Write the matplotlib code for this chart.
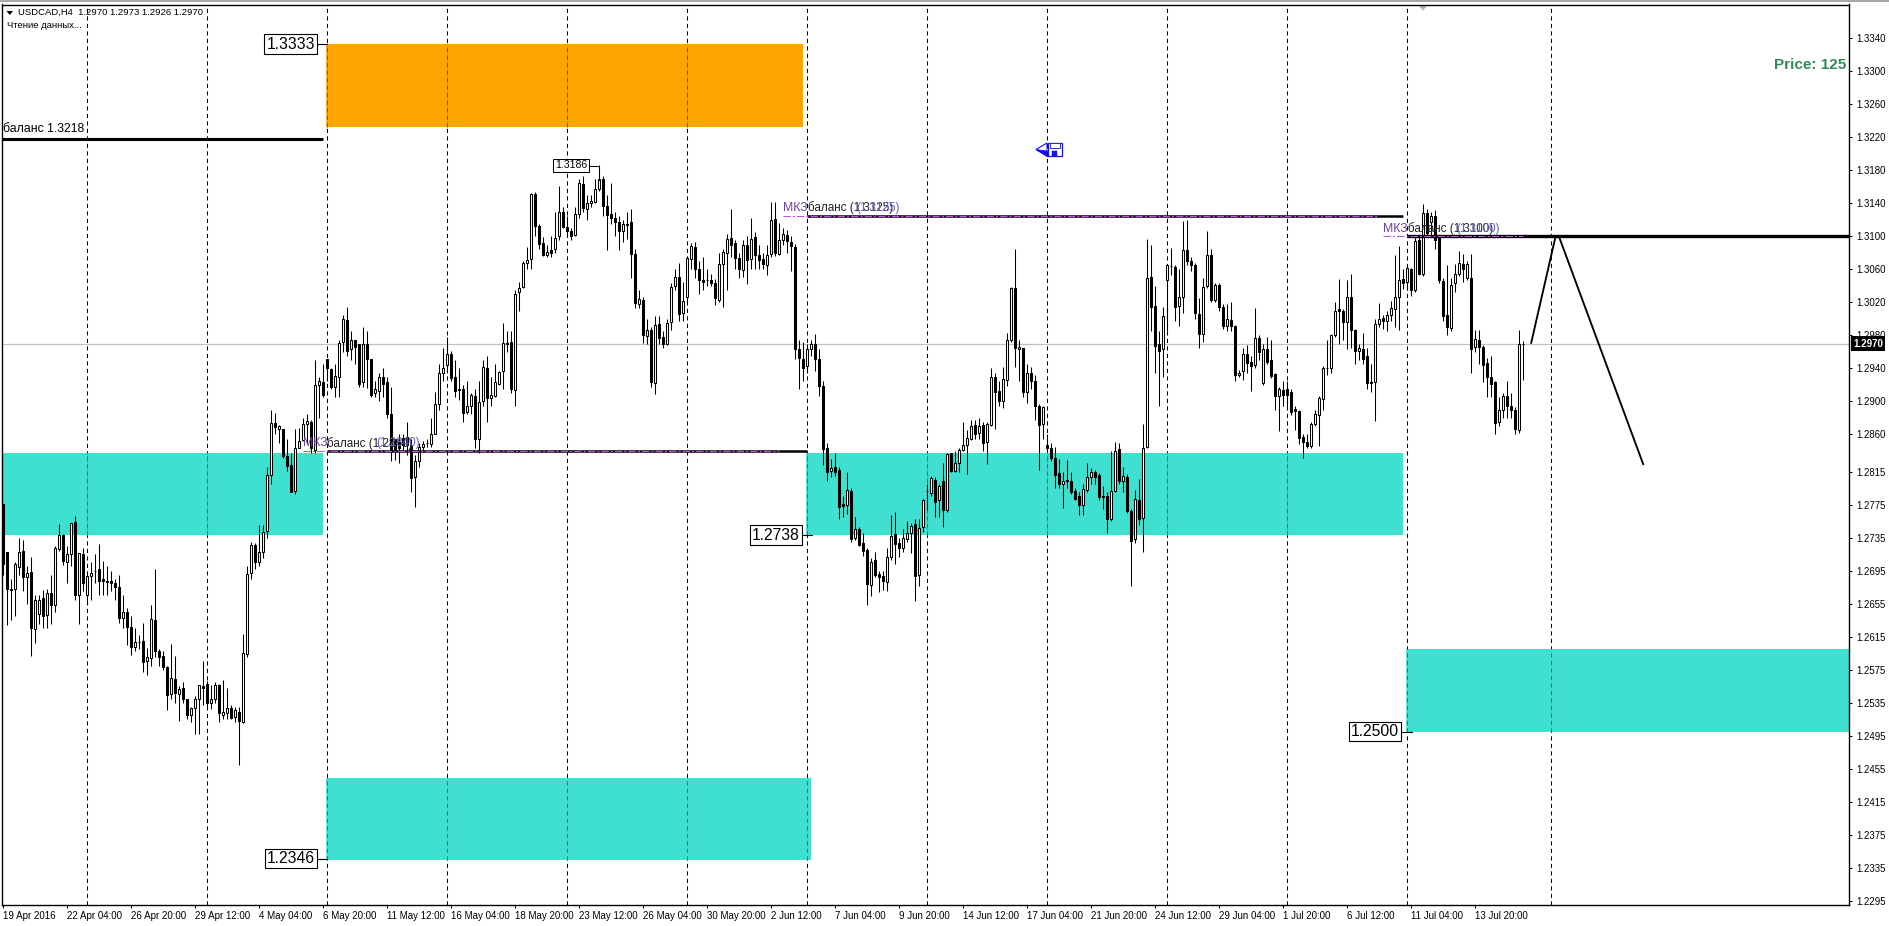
import matplotlib
matplotlib.use("Agg")
import matplotlib.pyplot as plt
import numpy as np
from matplotlib.patches import Polygon, Rectangle

plt.rcParams['font.family'] = ['Liberation Sans', 'DejaVu Sans']

# prices x 10000, one candle every 4 hours
opens = [
    12776,12717,12673,12673,12699,12719,12687,12693,12624,12642,12662,12641,12668,12653,12721,12738,
    12705,12715,12754,12666,12715,12665,12689,12695,12697,12685,12683,12682,12680,12675,12638,12645,
    12627,12603,12609,12610,12585,12589,12635,12598,12592,12578,12546,12564,12546,12553,12539,12520,
    12528,12539,12555,12558,12534,12539,12556,12520,12522,12528,12518,12524,12512,12594,12692,12726,
    12706,12718,12743,12811,12874,12866,12867,12834,12823,12792,12843,12853,12873,12875,12841,12920,
    12924,12952,12939,12918,12930,12972,12999,12963,12975,12969,12923,12970,12952,12910,12913,12930,
    12923,12885,12855,12851,12856,12857,12847,12808,12828,12845,12850,12848,12861,12897,12934,12944,
    12958,12930,12915,12915,12887,12895,12907,12855,12900,12941,12904,12907,12921,12937,12971,12972,
    12914,13032,13039,13068,13073,13151,13112,13092,13078,13084,13085,13100,13130,13111,13106,13102,
    13127,13164,13133,13141,13142,13158,13169,13137,13127,13122,13117,13107,13115,13118,13079,13018,
    13023,12979,12987,12922,12994,12978,12969,12996,13040,13051,13007,13026,13073,13087,13061,13047,
    13047,13047,13043,13023,13066,13080,13098,13092,13074,13059,13089,13072,13099,13078,13072,13065,
    13079,13121,13079,13095,13102,13093,13087,12963,12952,12943,12963,12969,12951,12919,12843,12816,
    12820,12817,12776,12774,12792,12735,12745,12728,12720,12678,12708,12691,12689,12681,12711,12739,
    12728,12723,12733,12740,12751,12690,12748,12792,12789,12805,12780,12804,12769,12837,12816,12825,
    12841,12847,12855,12872,12862,12872,12851,12872,12929,12913,12900,12926,12974,13038,12964,12965,
    12911,12935,12925,12894,12873,12847,12843,12832,12813,12800,12805,12803,12792,12785,12775,12793,
    12809,12815,12811,12786,12786,12757,12792,12842,12804,12809,12767,12733,12781,12759,12845,13051,
    13016,12970,12963,13047,13064,13063,13016,13027,13084,13070,13065,13006,12982,13040,13077,13023,
    13041,13014,12991,12999,12991,12932,12937,12958,12948,12944,12977,12922,12963,12950,12933,12907,
    12914,12915,12912,12891,12888,12857,12851,12846,12873,12884,12903,12940,12940,12981,13012,13010,
    12996,13027,12986,12961,12964,12955,12924,12923,12994,13001,12997,13005,13012,13027,13048,13045,
    13060,13035,13095,13055,13128,13117,13125,13100,13046,13005,12989,13043,13055,13066,13049,13049,
    12966,12975,12966,12946,12930,12923,12875,12890,12907,12895,12890,12865,12969,
]
highs = [
    12776,12717,12685,12705,12735,12732,12700,12711,12665,12665,12672,12673,12690,12725,12752,12739,
    12725,12753,12761,12716,12722,12693,12705,12715,12727,12707,12700,12695,12685,12690,12665,12650,
    12640,12625,12617,12632,12601,12653,12697,12600,12597,12580,12606,12592,12555,12560,12540,12530,
    12543,12557,12586,12561,12557,12560,12558,12562,12553,12532,12530,12530,12618,12700,12730,12728,
    12750,12750,12820,12890,12886,12872,12867,12855,12838,12867,12868,12880,12885,12878,12950,12930,
    12945,12952,12940,12945,12975,13005,13015,12985,12975,12970,12990,12985,12952,12925,12935,12941,
    12930,12918,12850,12860,12860,12875,12855,12835,12850,12852,12855,12880,12912,12945,12965,12978,
    12961,12950,12940,12920,12925,12910,12915,12925,12950,12955,12930,12945,12937,12995,12985,12985,
    13035,13045,13070,13087,13153,13154,13115,13099,13090,13100,13130,13161,13135,13125,13110,13135,
    13170,13173,13150,13150,13170,13186,13173,13150,13165,13130,13125,13120,13130,13133,13085,13035,
    13027,13000,12990,13003,13003,12985,13000,13043,13060,13068,13045,13075,13092,13093,13070,13075,
    13060,13055,13048,13080,13085,13103,13133,13095,13080,13095,13100,13122,13105,13090,13080,13090,
    13142,13142,13116,13110,13108,13100,13091,12975,12972,12970,12975,12982,12964,12925,12850,12830,
    12837,12820,12785,12815,12795,12760,12748,12740,12722,12710,12718,12695,12695,12722,12762,12766,
    12735,12745,12755,12753,12757,12757,12782,12800,12810,12808,12800,12826,12838,12838,12840,12843,
    12875,12865,12877,12877,12880,12875,12875,12941,12935,12925,12942,12983,13039,13085,12975,12965,
    12945,12942,12932,12897,12895,12860,12850,12845,12830,12815,12829,12815,12795,12790,12800,12825,
    12819,12817,12813,12797,12790,12840,12851,12850,12820,12812,12770,12793,12806,12873,13097,13090,
    13040,12985,13015,13067,13086,13065,13060,13119,13120,13075,13068,13025,13050,13107,13085,13043,
    13043,13018,13018,13020,12993,12938,12965,12968,12955,13013,12980,12970,12978,12975,12935,12918,
    12925,12925,12915,12895,12890,12860,12860,12875,12890,12906,12943,12975,12982,13020,13048,13012,
    13047,13055,12988,12970,12983,12965,12945,13000,13019,13005,13010,13022,13078,13088,13060,13065,
    13062,13100,13100,13139,13133,13130,13132,13102,13050,13065,13050,13067,13082,13079,13070,13079,
    12986,12986,12968,12953,12955,12925,12905,12910,12925,12910,12893,12987,12973,
]
lows = [
    12690,12629,12635,12640,12690,12670,12655,12592,12607,12630,12625,12625,12630,12645,12719,12702,
    12680,12700,12660,12630,12670,12655,12660,12680,12665,12665,12665,12670,12660,12632,12625,12605,
    12593,12598,12600,12572,12569,12580,12590,12580,12574,12526,12540,12535,12513,12535,12515,12512,
    12497,12497,12532,12527,12527,12535,12512,12515,12515,12515,12512,12459,12510,12590,12685,12697,
    12700,12710,12735,12800,12860,12850,12832,12816,12790,12788,12843,12852,12850,12838,12837,12880,
    12905,12925,12915,12905,12905,12960,12955,12950,12945,12918,12917,12916,12905,12905,12900,12905,
    12880,12828,12829,12825,12840,12835,12790,12772,12820,12840,12845,12845,12860,12890,12925,12935,
    12925,12905,12902,12875,12885,12885,12843,12838,12895,12875,12895,12905,12920,12915,12960,12910,
    12894,13009,13038,13060,13060,13100,13085,13076,13075,13075,13080,13096,13110,13100,13095,13101,
    13122,13130,13120,13135,13140,13155,13125,13083,13115,13100,13083,13093,13097,13050,13013,13013,
    12971,12970,12917,12909,12970,12965,12968,12986,13035,12997,12997,13020,13060,13050,13030,13035,
    13040,13040,13017,13020,13015,13035,13075,13060,13050,13051,13042,13060,13060,13060,13060,13053,
    13075,13076,13077,13090,13080,13058,12952,12915,12925,12935,12955,12937,12906,12823,12803,12808,
    12810,12757,12760,12763,12730,12732,12725,12713,12653,12664,12687,12669,12672,12670,12708,12703,
    12712,12718,12730,12716,12658,12676,12742,12768,12785,12760,12760,12748,12766,12815,12815,12815,
    12840,12812,12853,12855,12855,12840,12824,12870,12866,12895,12892,12919,12972,12942,12925,12905,
    12898,12915,12878,12817,12855,12840,12828,12795,12795,12771,12795,12788,12780,12762,12762,12790,
    12800,12800,12780,12770,12740,12755,12790,12800,12790,12765,12676,12729,12750,12718,12843,12985,
    12935,12894,12930,12985,13053,12997,12992,13007,13065,13058,13000,12965,12972,13038,13020,13020,
    13010,12988,12985,12985,12925,12929,12926,12935,12913,12940,12950,12920,12945,12928,12890,12864,
    12895,12895,12884,12865,12848,12831,12843,12843,12870,12846,12890,12932,12935,12978,12970,12975,
    12963,12965,12945,12950,12945,12915,12911,12876,12990,12988,12985,12998,12990,12986,13036,13035,
    13028,13033,13053,13052,13100,13100,13085,13043,12998,12980,12985,13033,13052,13045,13047,12934,
    12960,12945,12924,12905,12905,12860,12870,12880,12880,12880,12860,12862,12926,
]
closes = [
    12703,12673,12671,12703,12718,12687,12692,12625,12660,12660,12640,12668,12653,12723,12738,12707,
    12715,12753,12665,12716,12680,12689,12692,12694,12683,12682,12681,12680,12675,12638,12645,12627,
    12603,12609,12608,12584,12590,12636,12597,12590,12578,12544,12565,12547,12552,12539,12520,12528,
    12540,12556,12553,12535,12540,12557,12522,12524,12529,12517,12526,12513,12595,12691,12726,12705,
    12718,12742,12811,12874,12869,12870,12834,12822,12790,12844,12852,12873,12876,12843,12920,12925,
    12908,12940,12918,12931,12971,13000,12961,12975,12966,12921,12970,12951,12908,12915,12930,12921,
    12885,12841,12841,12844,12847,12847,12807,12828,12845,12849,12850,12861,12897,12934,12940,12958,
    12928,12913,12914,12886,12895,12908,12855,12899,12942,12904,12908,12923,12936,12971,12970,12915,
    13030,13038,13068,13071,13151,13112,13091,13078,13081,13080,13098,13129,13111,13106,13101,13127,
    13165,13134,13141,13143,13157,13170,13137,13126,13122,13117,13106,13115,13114,13079,13019,13024,
    12980,12987,12923,12993,12977,12969,12995,13039,13051,13006,13022,13074,13088,13060,13047,13045,
    13047,13044,13025,13066,13081,13097,13090,13074,13060,13089,13071,13097,13077,13071,13066,13078,
    13120,13080,13096,13103,13094,13088,12963,12953,12940,12963,12969,12951,12919,12842,12815,12819,
    12815,12772,12773,12793,12733,12745,12726,12719,12679,12706,12690,12687,12682,12712,12737,12727,
    12722,12735,12741,12749,12689,12747,12780,12791,12807,12778,12798,12768,12836,12816,12826,12841,
    12847,12856,12870,12861,12870,12850,12873,12929,12911,12900,12927,12975,13037,12965,12966,12911,
    12935,12925,12894,12872,12893,12843,12832,12811,12800,12804,12803,12790,12782,12774,12794,12808,
    12815,12809,12784,12784,12757,12792,12840,12803,12810,12767,12731,12782,12758,12843,13049,13014,
    12967,12961,13003,13065,13064,13015,13027,13084,13070,13065,13007,12982,13039,13077,13023,13041,
    13014,12991,13000,12991,12932,12935,12958,12946,12943,12977,12960,12963,12948,12931,12907,12915,
    12908,12908,12887,12888,12856,12851,12846,12873,12885,12904,12941,12940,12980,13010,13009,12996,
    13027,12986,12961,12965,12951,12922,12922,12994,13000,12997,13005,13013,13026,13047,13043,13062,
    13035,13094,13055,13128,13104,13125,13095,13047,13003,12990,13041,13055,13068,13060,13066,12964,
    12976,12966,12944,12929,12921,12874,12890,12906,12895,12890,12866,12970,12970,
]

date_labels = [
    '19 Apr 2016','22 Apr 04:00','26 Apr 20:00','29 Apr 12:00','4 May 04:00','6 May 20:00',
    '11 May 12:00','16 May 04:00','18 May 20:00','23 May 12:00','26 May 04:00','30 May 20:00',
    '2 Jun 12:00','7 Jun 04:00','9 Jun 20:00','14 Jun 12:00','17 Jun 04:00','21 Jun 20:00',
    '24 Jun 12:00','29 Jun 04:00','1 Jul 20:00','6 Jul 12:00','11 Jul 04:00','13 Jul 20:00',
]
price_ticks = [
    1.3340,1.3300,1.3260,1.3220,1.3180,1.3140,1.3100,1.3060,1.3020,1.2980,1.2940,1.2900,1.2860,1.2815,
    1.2775,1.2735,1.2695,1.2655,1.2615,1.2575,1.2535,1.2495,1.2455,1.2415,1.2375,1.2335,1.2295,
]
separators = [21, 51, 81, 111, 141, 171, 201, 231, 261, 291, 321, 351, 387]

# (first bar, last bar, low, high, colour)
orange_zone = (81, 200, 1.3233, 1.3333, '#FFA500')
aqua_zones = [
    (-1, 80, 1.2738, 1.2838, '#40E0D0'),
    (81, 202, 1.2344, 1.2444, '#40E0D0'),
    (201, 350, 1.2738, 1.2838, '#40E0D0'),
    (351, 462, 1.2500, 1.2600, '#40E0D0'),
]
# (price, black from, black to, purple from, purple to)
levels = [
    (1.2840, 81, 201, 75, 194),
    (1.3125, 201, 350, 195, 344),
    (1.3100, 351, 462, 345, 380),
]
forecast_x = [382, 388, 389, 410]
forecast_y = [1.2971, 1.3098, 1.3099, 1.2824]

W, H = 1890, 926
AX_L, AX_R, AX_T, AX_B = 2.4, 1848.6, 4.5, 905


def px_x(px):
    return (px - 3.2) / 4.0


def px_y(py):
    return 1.3340 - (py - 38.3) / 8253.0


fig = plt.figure(figsize=(W / 100, H / 100), dpi=100, facecolor='white')
ax = fig.add_axes([AX_L / W, (H - AX_B) / H, (AX_R - AX_L) / W, (AX_B - AX_T) / H])
ax.set_xlim(px_x(AX_L), px_x(AX_R))
ax.set_ylim(px_y(AX_B), px_y(AX_T))

fig.add_artist(Rectangle((0, 1 - 2.0 / H), 1, 2.0 / H, transform=fig.transFigure, color='#A8A8A8', lw=0))

# zones go under everything
for x0, x1, lo, hi, col in [orange_zone] + aqua_zones:
    ax.add_patch(Rectangle((x0, lo), x1 - x0, hi - lo, fc=col, ec='none', zorder=1))

# separators: MT4 xors them with the background so they change colour over a zone
dash = (0, (4, 3.2))
for s in separators:
    ax.axvline(s, color='black', lw=0.75, ls=dash, zorder=2)
    for x0, x1, lo, hi, col in [orange_zone] + aqua_zones:
        if x0 <= s <= x1:
            over = '#2A5FD8' if col == '#FFA500' else '#D8303A'
            ax.plot([s, s], [lo, hi], color=col, lw=1.2, zorder=2.1, solid_capstyle='butt')
            ax.plot([s, s], [lo, hi], color=over, lw=0.75, ls=dash, zorder=2.2)

ax.axhline(1.2970, color='#C0C0C0', lw=0.9, zorder=2.5)

# candles
x = np.arange(len(closes))
o = np.array(opens) / 1e4
h = np.array(highs) / 1e4
l = np.array(lows) / 1e4
c = np.array(closes) / 1e4
up = c >= o
ax.vlines(x, l, h, color='black', lw=0.75, zorder=3)
ax.bar(x[up], (c - o)[up], bottom=o[up], width=0.62, color='white', edgecolor='black', lw=0.75, zorder=4)
ax.bar(x[~up], (o - c)[~up], bottom=c[~up], width=0.62, color='black', edgecolor='black', lw=0.75, zorder=4)

# level lines
ax.plot([px_x(AX_L), 80], [1.3218, 1.3218], color='black', lw=2.2, zorder=5, solid_capstyle='butt')
for price, b0, b1, p0, p1 in levels:
    lw = 2.4 if price == 1.3100 else 1.8
    ax.plot([b0, b1], [price, price], color='black', lw=lw, zorder=5, solid_capstyle='butt')
    ax.plot([p0, p1], [price, price], color='#C050E0', lw=0.75, ls=(0, (7, 2, 2, 2)), zorder=5.5)

ax.plot(forecast_x[:2], forecast_y[:2], color='black', lw=1.35, zorder=5)
ax.plot(forecast_x[2:], forecast_y[2:], color='black', lw=1.35, zorder=5)

# overlapping level captions
ax.text(px_x(3), px_y(129), 'баланс 1.3218', fontsize=8.8, color='black', va='center', zorder=7)
for x_mk, x_bal, price, label in [(303.3, 327.4, 1.2840, '1.2840'),
                                   (783.5, 807.6, 1.3125, '1.3125'),
                                   (1383, 1407.5, 1.3100, '1.3100')]:
    y_txt = price + 0.00095
    ax.text(px_x(x_mk), y_txt, 'МКЗ', fontsize=8.8, color='#6A3FA0', va='center', zorder=7)
    ax.text(px_x(x_bal), y_txt, 'баланс (' + label + ')', fontsize=8.4, color='#202020', va='center', zorder=7)
    ax.text(px_x(x_bal + 92.5), y_txt, '(' + label + ')', fontsize=8.4, color='#6060C0', va='center', ha='right', zorder=7)

# boxed round numbers
for price, box_right, conn_end, txt in [(1.3333, 317, 327.4, '1.3333'), (1.2346, 317, 327.4, '1.2346'),
                                        (1.2738, 801.6, 811.6, '1.2738'), (1.2500, 1401, 1412, '1.2500')]:
    ax.plot([px_x(box_right), px_x(conn_end)], [price, price], color='black', lw=0.8, zorder=6)
    ax.text(px_x(box_right - 2), price, txt, fontsize=11.3, ha='right', va='center', color='black', zorder=7,
            bbox=dict(boxstyle='square,pad=0.14', fc='white', ec='black', lw=0.8))

# high marker
ax.plot([px_x(589), px_x(599.4), px_x(599.4)], [px_y(166), px_y(166), px_y(180)], color='black', lw=0.75, zorder=6)
ax.text(px_x(587), px_y(165.5), '1.3186', fontsize=7.6, ha='right', va='center', zorder=7,
        bbox=dict(boxstyle='square,pad=0.18', fc='white', ec='black', lw=0.75))

# arrow icon
blue = '#1010F0'
ax.add_patch(Polygon([(px_x(1036), px_y(149.5)), (px_x(1047), px_y(143)), (px_x(1047), px_y(156))],
                     closed=True, fc='white', ec=blue, lw=0.8, zorder=6))
ax.add_patch(Polygon([(px_x(1036), px_y(149.5)), (px_x(1047), px_y(151)), (px_x(1048), px_y(157))],
                     closed=True, fc=blue, ec=blue, lw=0.5, zorder=6))
ax.add_patch(Rectangle((px_x(1047.5), px_y(156.5)), 14 / 4.0, 13.5 / 8253.0, fc='white', ec=blue, lw=0.9, zorder=6))
ax.add_patch(Rectangle((px_x(1052), px_y(156.5)), 5 / 4.0, 5 / 8253.0, fc=blue, ec=blue, lw=0.3, zorder=6.1))
ax.add_patch(Rectangle((px_x(1049.5), px_y(148)), 10 / 4.0, 5 / 8253.0, fc='white', ec=blue, lw=0.6, zorder=6.1))

# grey scroll marker
ax.add_patch(Polygon([(px_x(1418), px_y(AX_T)), (px_x(1428), px_y(AX_T)), (px_x(1423), px_y(10.5))],
                     closed=True, fc='#B0B0B0', ec='none', zorder=6))

# header
ax.add_patch(Polygon([(px_x(6.5), px_y(11)), (px_x(13), px_y(11)), (px_x(9.8), px_y(15))],
                     closed=True, fc='black', ec='none', zorder=7))
ax.text(px_x(18), px_y(12.8), 'USDCAD,H4  1.2970 1.2973 1.2926 1.2970', fontsize=6.8, va='center', zorder=7)
ax.text(px_x(7), px_y(26), 'Чтение данных...', fontsize=6.8, va='center', zorder=7)
ax.text(px_x(1846), px_y(65), 'Price: 125', fontsize=11, fontweight='bold', color='#2E8B57', ha='right', va='center', zorder=7)

# axes
for side in ax.spines:
    ax.spines[side].set_linewidth(1.0)
    ax.spines[side].set_zorder(8)
ax.yaxis.tick_right()
ax.set_yticks(price_ticks)
ax.set_yticklabels(['%.4f' % p for p in price_ticks], fontsize=6.9)
ax.tick_params(axis='y', length=2.5, width=0.75, pad=3)
ax.set_xticks(np.arange(len(date_labels)) * 16)
ax.set_xticklabels(date_labels, fontsize=7, ha='left')
ax.tick_params(axis='x', length=2.5, width=0.75, pad=2)

# current price tag
ax.text(px_x(1853), 1.2970, '1.2970', fontsize=7, fontweight='bold', color='white',
        va='center', ha='left', zorder=9, clip_on=False,
        bbox=dict(boxstyle='square,pad=0.25', fc='black', ec='black', lw=0))

fig.savefig('out.png', dpi=100, facecolor='white')
